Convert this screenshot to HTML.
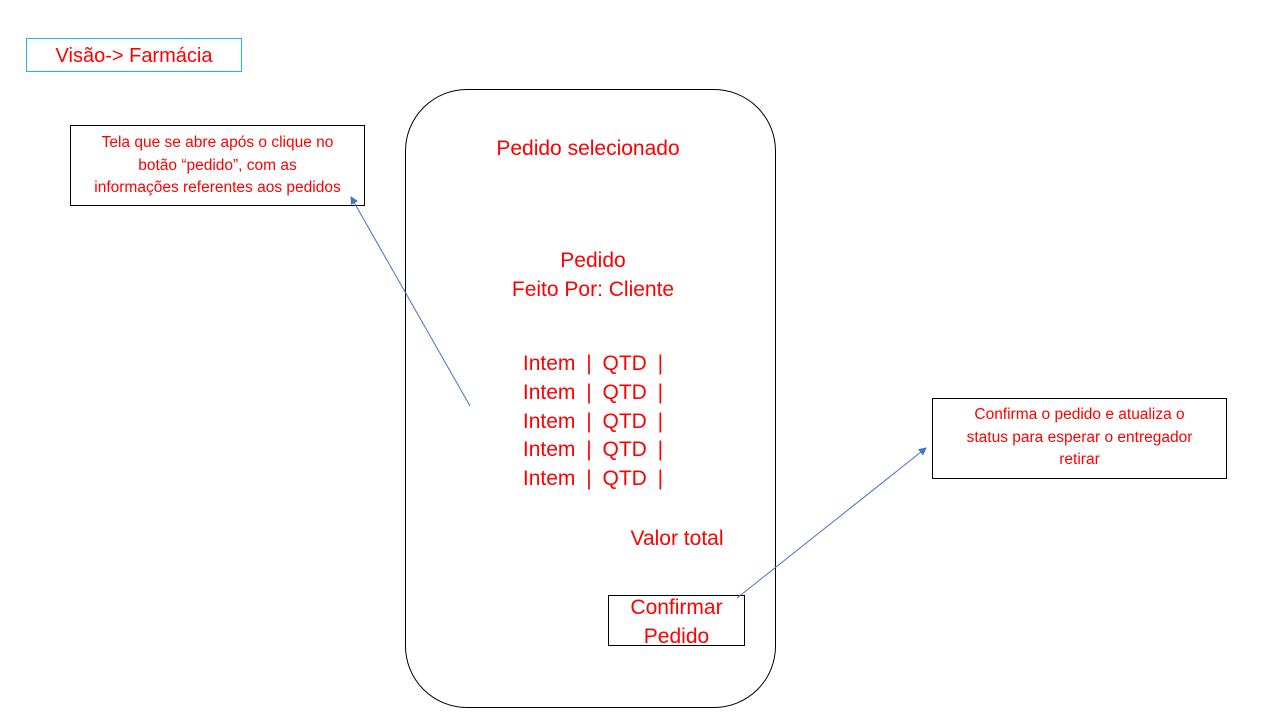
<!DOCTYPE html>
<html><head><meta charset="utf-8"><style>
body{margin:0;width:1280px;height:720px;background:#fff;position:relative;overflow:hidden;font-family:"Liberation Sans",sans-serif;color:#ff0000}
.a{position:absolute;box-sizing:border-box}
.t{position:absolute;text-align:center;white-space:nowrap}
</style></head><body>
<div class="a" style="left:26px;top:38px;width:216px;height:34px;border:1.5px solid #1fb4ea"></div>
<div class="t" style="left:26px;top:45px;width:216px;font-size:20px">Visão-&gt; Farmácia</div>

<div class="a" style="left:405px;top:89px;width:371px;height:619px;border:1.3px solid #000;border-radius:62px"></div>

<div class="a" style="left:70px;top:125px;width:295px;height:81px;border:1.3px solid #000"></div>
<div class="t" style="left:70px;top:132px;width:295px;font-size:15.5px;line-height:22.5px">Tela que se abre após o clique no<br>botão “pedido”, com as<br>informações referentes aos pedidos</div>

<div class="a" style="left:932px;top:398px;width:295px;height:81px;border:1.3px solid #000"></div>
<div class="t" style="left:932px;top:404px;width:295px;font-size:15.5px;line-height:22.5px">Confirma o pedido e atualiza o<br>status para esperar o entregador<br>retirar</div>

<div class="t" style="left:405px;top:137px;width:366px;font-size:21px">Pedido selecionado</div>
<div class="t" style="left:405px;top:246px;width:376px;font-size:21px;line-height:29px">Pedido<br>Feito Por: Cliente</div>
<div class="t" style="left:405px;top:350px;width:376px;font-size:21px;line-height:28.8px;word-spacing:5px">Intem | QTD |<br>Intem | QTD |<br>Intem | QTD |<br>Intem | QTD |<br>Intem | QTD |</div>
<div class="t" style="left:617px;top:527px;width:120px;font-size:21px">Valor total</div>

<div class="a" style="left:608px;top:595px;width:137px;height:51px;border:1.3px solid #000"></div>
<div class="t" style="left:608px;top:593px;width:137px;font-size:21px;line-height:29px">Confirmar<br>Pedido</div>

<svg class="a" style="left:0;top:0" width="1280" height="720">
<defs><marker id="m" markerWidth="8" markerHeight="8" refX="7" refY="4" orient="auto" markerUnits="userSpaceOnUse"><path d="M0,0 L8,4 L0,8 z" fill="#4472c4"/></marker></defs>
<line x1="470" y1="406" x2="351" y2="197" stroke="#4472c4" stroke-width="1" marker-end="url(#m)"/>
<line x1="737" y1="598" x2="926" y2="448" stroke="#4472c4" stroke-width="1" marker-end="url(#m)"/>
</svg>
</body></html>
